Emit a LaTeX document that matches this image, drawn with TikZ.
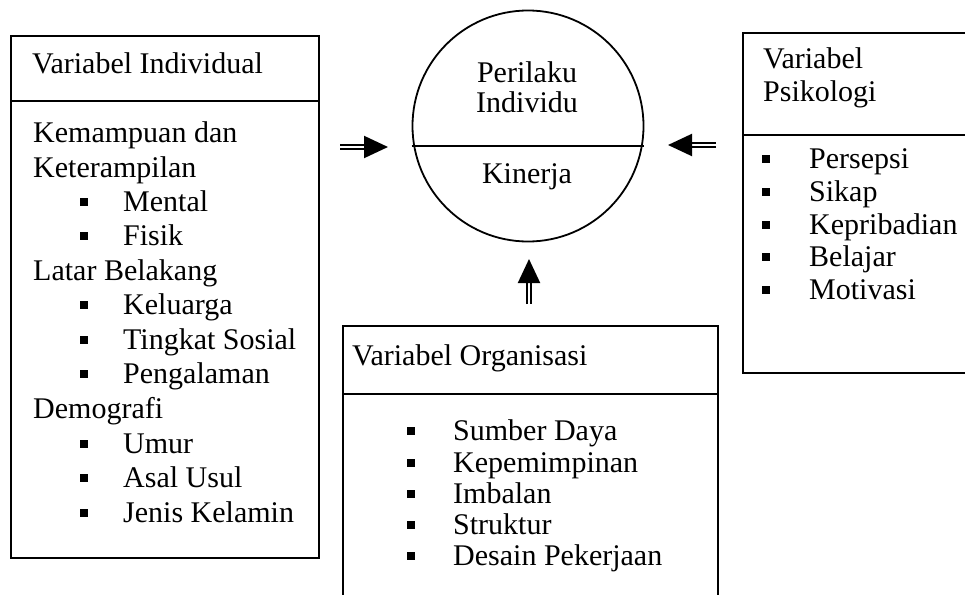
\documentclass[tikz,border=0pt]{standalone}
\usepackage{fontspec}
\setmainfont{Liberation Serif}
\usetikzlibrary{arrows.meta}
\tikzset{
  box/.style={draw, line width=1.8pt, inner sep=0pt, anchor=north west},
  rule/.style={line width=1.6pt},
  txt/.style={anchor=base west, inner sep=0pt, font=\fontsize{30}{35}\selectfont},
  ctxt/.style={anchor=base, inner sep=0pt, font=\fontsize{30}{35}\selectfont},
  bul/.style={fill, draw=none, minimum width=8pt, minimum height=8pt, inner sep=0pt},
  dblarrow/.style={line width=2pt, double, double distance=2.2pt,
     -{Triangle[length=24pt,width=22pt]}}
}
\begin{document}
\begin{tikzpicture}[x=1pt,y=-1pt]
\useasboundingbox (0,0) rectangle (965,594);
\clip (0,0) rectangle (965,594);

% Left box: Variabel Individual
\node[box, minimum width=308pt, minimum height=522pt] (indiv) at (10,35) {};
\draw[rule] (10,101) -- (318,101);
\node[txt] (indivT) at (32,73) {Variabel Individual};
\node[txt] (h1) at (33,142) {Kemampuan dan};
\node[txt] (h1b) at (33,177) {Keterampilan};
\node[txt] (h2) at (33,280) {Latar Belakang};
\node[txt] (h3) at (33,418) {Demografi};
\foreach \t/\y [count=\i] in {Mental/211, Fisik/245, Keluarga/314, Tingkat Sosial/349,
   Pengalaman/383, Umur/453, Asal Usul/487, Jenis Kelamin/522} {
  \node[bul] (lb\i) at (84,\y-9) {};
  \node[txt] (lt\i) at (123,\y) {\t};
}

% Circle
\node[draw, circle, line width=1.8pt, minimum size=231pt, inner sep=0pt] (circ) at (528,126) {};
\draw[rule] (circ.west |- 0,146) -- (circ.east |- 0,146);
\node[ctxt] (c1) at (527,82) {Perilaku};
\node[ctxt] (c2) at (527,112) {Individu};
\node[ctxt] (c3) at (527,183) {Kinerja};

% Right box: Variabel Psikologi
\node[box, minimum width=240pt, minimum height=340pt] (psik) at (742,32) {};
\draw[rule] (742,135) -- (980,135);
\node[txt] (pT1) at (763,68) {Variabel};
\node[txt] (pT2) at (763,101) {Psikologi};
\foreach \t/\y [count=\i] in {Persepsi/168, Sikap/201, Kepribadian/234, Belajar/266, Motivasi/299} {
  \node[bul] (pb\i) at (766,\y-9) {};
  \node[txt] (pt\i) at (809,\y) {\t};
}

% Bottom box: Variabel Organisasi
\node[box, minimum width=375pt, minimum height=290pt] (org) at (342,325) {};
\draw[rule] (342,394) -- (717,394);
\node[txt] (oT) at (352,365) {Variabel Organisasi};
\foreach \t/\y [count=\i] in {Sumber Daya/440, Kepemimpinan/472, Imbalan/503, Struktur/534, Desain Pekerjaan/565} {
  \node[bul] (ob\i) at (411,\y-9) {};
  \node[txt] (ot\i) at (453,\y) {\t};
}

% Arrows
\coordinate (aLs) at (340,147);
\coordinate (aLe) at (388,147);
\coordinate (aRs) at (716,145);
\coordinate (aRe) at (668,145);
\coordinate (aUs) at (529,304);
\coordinate (aUe) at (529,259);
\draw[dblarrow] (aLs) -- (aLe);
\draw[dblarrow] (aRs) -- (aRe);
\draw[dblarrow] (aUs) -- (aUe);
\end{tikzpicture}
\end{document}
